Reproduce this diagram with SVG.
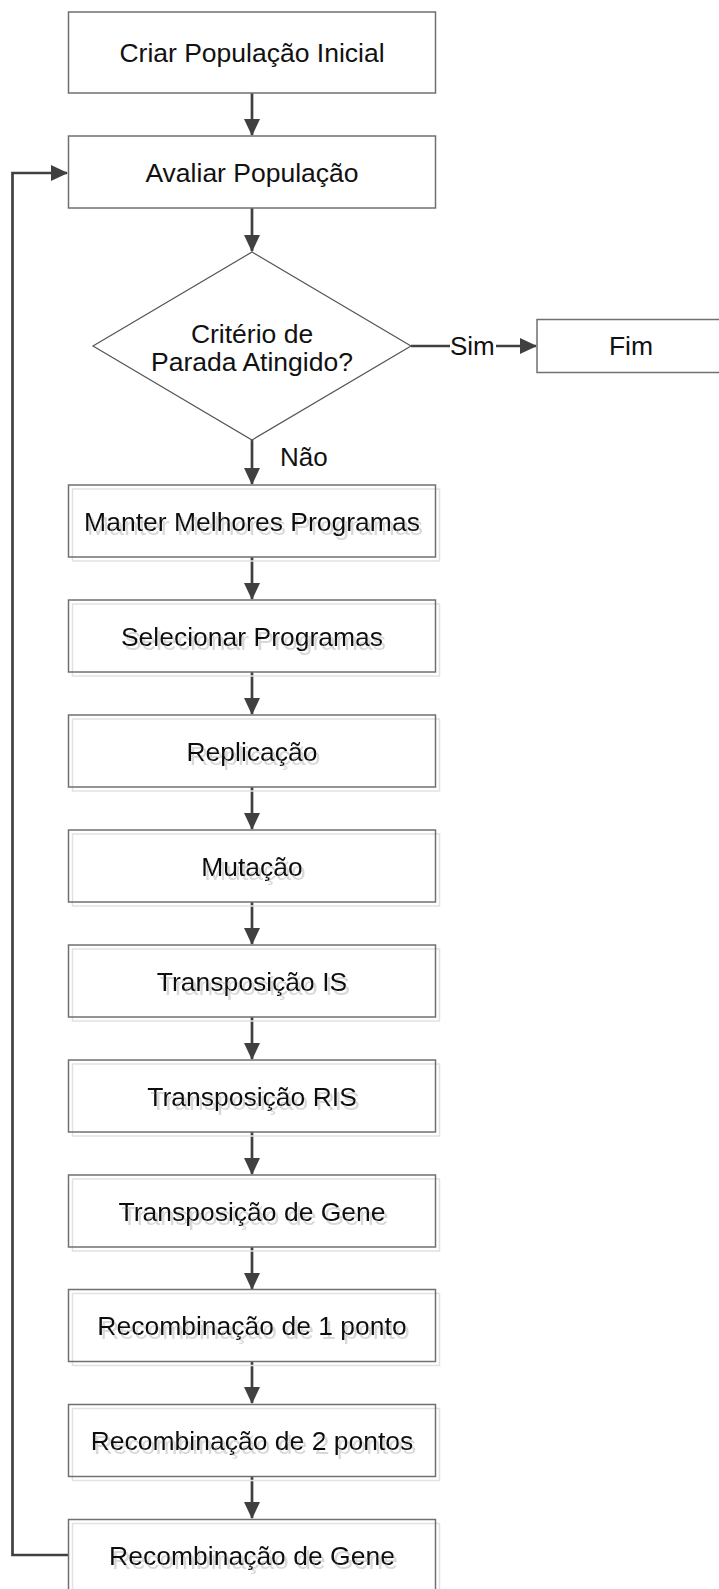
<svg xmlns="http://www.w3.org/2000/svg" width="719" height="1589" viewBox="0 0 719 1589">
<style>
.box{fill:none;stroke:#707070;stroke-width:1.5}
.shd{fill:none;stroke:#e2e2e2;stroke-width:1.5}
.dia{fill:none;stroke:#555555;stroke-width:1.2}
.t{font-family:"Liberation Sans",Arial,sans-serif;font-size:26.5px;fill:#111111;text-anchor:middle}
.s{filter:url(#tshadow)}
.lbl{font-family:"Liberation Sans",Arial,sans-serif;font-size:26px;fill:#111111}
.c{fill:none;stroke:#404040;stroke-width:2.7}
</style>
<defs>
<marker id="ah" markerWidth="17" markerHeight="16" refX="16" refY="8" orient="auto" markerUnits="userSpaceOnUse">
<path d="M0,0 L17,8 L0,16 Z" fill="#404040"/>
</marker>
<filter id="tshadow" x="-5%" y="-20%" width="115%" height="160%">
<feOffset in="SourceAlpha" dx="3" dy="4" result="o"/>
<feFlood flood-color="#d8d8d8" result="f"/>
<feComposite in="f" in2="o" operator="in" result="sh"/>
<feMerge><feMergeNode in="sh"/><feMergeNode in="SourceGraphic"/></feMerge>
</filter>
</defs>
<rect width="719" height="1589" fill="#ffffff"/>
<g id="connectors">
<line class="c" x1="252" y1="93" x2="252" y2="135" marker-end="url(#ah)"/>
<line class="c" x1="252" y1="208" x2="252" y2="251" marker-end="url(#ah)"/>
<line class="c" x1="252" y1="440" x2="252" y2="484" marker-end="url(#ah)"/>
<line class="c" x1="411" y1="346" x2="450" y2="346"/>
<line class="c" x1="496" y1="346" x2="536" y2="346" marker-end="url(#ah)"/>
<line class="c" x1="252" y1="557" x2="252" y2="599" marker-end="url(#ah)"/>
<line class="c" x1="252" y1="672" x2="252" y2="714" marker-end="url(#ah)"/>
<line class="c" x1="252" y1="787" x2="252" y2="829" marker-end="url(#ah)"/>
<line class="c" x1="252" y1="902" x2="252" y2="944" marker-end="url(#ah)"/>
<line class="c" x1="252" y1="1017" x2="252" y2="1059" marker-end="url(#ah)"/>
<line class="c" x1="252" y1="1132" x2="252" y2="1174" marker-end="url(#ah)"/>
<line class="c" x1="252" y1="1247" x2="252" y2="1289" marker-end="url(#ah)"/>
<line class="c" x1="252" y1="1361" x2="252" y2="1403" marker-end="url(#ah)"/>
<line class="c" x1="252" y1="1476" x2="252" y2="1518" marker-end="url(#ah)"/>
<polyline class="c" points="68,1555 12.5,1555 12.5,173 67,173" marker-end="url(#ah)"/>
<text class="lbl" x="450" y="355">Sim</text>
<text class="lbl" x="280" y="466">Não</text>
</g>
<g id="n-criar">
<rect class="box" x="68.5" y="12" width="367" height="81"/>
<text class="t" x="252" y="62">Criar População Inicial</text>
</g>
<g id="n-avaliar">
<rect class="box" x="68.5" y="136" width="367" height="72"/>
<text class="t" x="252" y="181.5">Avaliar População</text>
</g>
<g id="n-criterio">
<polygon class="dia" points="252,252 411,346 252,440 93,346"/>
<text class="t" x="252" y="343">Critério de</text>
<text class="t" x="252" y="370.5">Parada Atingido?</text>
</g>
<g id="n-fim">
<rect class="box" x="537" y="319.5" width="190" height="53"/>
<text class="t" x="631" y="355">Fim</text>
</g>
<g id="n-manter">
<rect class="shd" x="72.5" y="489" width="367" height="72"/>
<rect class="box" x="68.5" y="485" width="367" height="72"/>
<text class="t s" x="252" y="530.5">Manter Melhores Programas</text>
</g>
<g id="n-selecionar">
<rect class="shd" x="72.5" y="604" width="367" height="72"/>
<rect class="box" x="68.5" y="600" width="367" height="72"/>
<text class="t s" x="252" y="645.5">Selecionar Programas</text>
</g>
<g id="n-replicacao">
<rect class="shd" x="72.5" y="719" width="367" height="72"/>
<rect class="box" x="68.5" y="715" width="367" height="72"/>
<text class="t s" x="252" y="760.5">Replicação</text>
</g>
<g id="n-mutacao">
<rect class="shd" x="72.5" y="834" width="367" height="72"/>
<rect class="box" x="68.5" y="830" width="367" height="72"/>
<text class="t s" x="252" y="875.5">Mutação</text>
</g>
<g id="n-transp-is">
<rect class="shd" x="72.5" y="949" width="367" height="72"/>
<rect class="box" x="68.5" y="945" width="367" height="72"/>
<text class="t s" x="252" y="990.5">Transposição IS</text>
</g>
<g id="n-transp-ris">
<rect class="shd" x="72.5" y="1064" width="367" height="72"/>
<rect class="box" x="68.5" y="1060" width="367" height="72"/>
<text class="t s" x="252" y="1105.5">Transposição RIS</text>
</g>
<g id="n-transp-gene">
<rect class="shd" x="72.5" y="1179" width="367" height="72"/>
<rect class="box" x="68.5" y="1175" width="367" height="72"/>
<text class="t s" x="252" y="1220.5">Transposição de Gene</text>
</g>
<g id="n-recomb-1">
<rect class="shd" x="72.5" y="1293.5" width="367" height="72"/>
<rect class="box" x="68.5" y="1289.5" width="367" height="72"/>
<text class="t s" x="252" y="1335">Recombinação de 1 ponto</text>
</g>
<g id="n-recomb-2">
<rect class="shd" x="72.5" y="1408.5" width="367" height="72"/>
<rect class="box" x="68.5" y="1404.5" width="367" height="72"/>
<text class="t s" x="252" y="1450">Recombinação de 2 pontos</text>
</g>
<g id="n-recomb-gene">
<rect class="shd" x="72.5" y="1523.5" width="367" height="72"/>
<rect class="box" x="68.5" y="1519.5" width="367" height="72"/>
<text class="t s" x="252" y="1565">Recombinação de Gene</text>
</g>
</svg>
